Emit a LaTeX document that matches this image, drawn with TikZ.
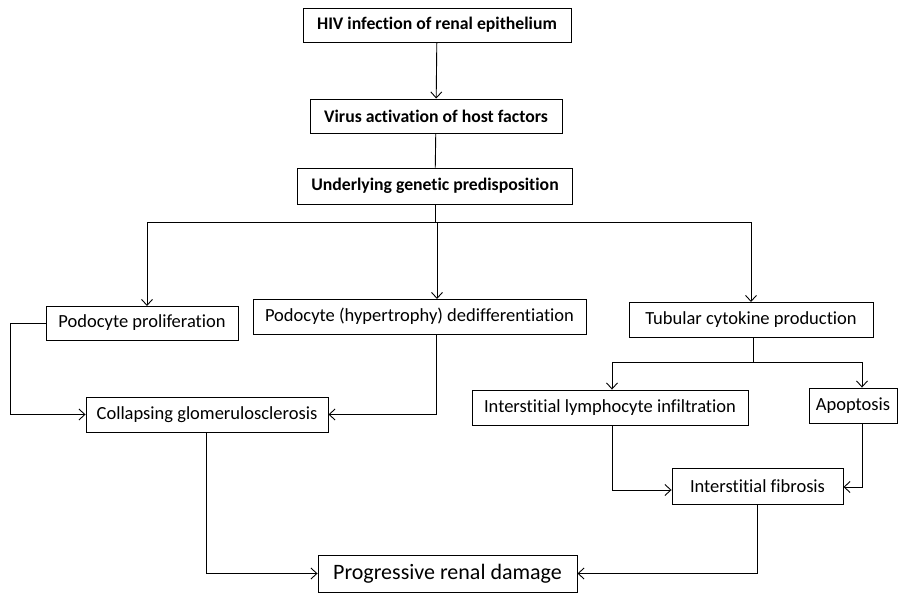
\documentclass[tikz,border=0pt]{standalone}
\usepackage{fontspec}
\setmainfont{Carlito}[Ligatures=NoCommon]
\usetikzlibrary{arrows.meta}

\tikzset{
  box/.style={draw, line width=0.9pt, minimum height=34pt, inner sep=2pt,
    font=\fontsize{18.5}{22}\selectfont},
  topbox/.style={box, font=\fontsize{17.7}{21}\selectfont\bfseries},
  link/.style={line width=0.9pt},
  arr/.style={link, -{Straight Barb[length=6pt,width=11pt]}}
}

\begin{document}
\begin{tikzpicture}[x=1pt, y=-1pt]
  \useasboundingbox (0,0) rectangle (900,595);
  % top chain
  \node[topbox, minimum width=268pt] (hiv) at (437,25) {HIV infection of renal epithelium};
  \node[topbox, minimum width=252pt] (virus) at (436,116) {Virus activation of host factors};
  \node[topbox, minimum width=275pt, minimum height=36pt] (gene) at (435,186) {Underlying genetic predisposition};
  % middle row
  \node[box, minimum width=192pt] (prolif) at (142,323) {Podocyte proliferation};
  \node[box, minimum width=333pt, minimum height=35pt] (dediff) at (419.5,316.5) {Podocyte (hypertrophy) dedifferentiation};
  \node[box, minimum width=244pt, minimum height=35pt] (tubul) at (751,319.5) {Tubular cytokine production};
  \node[box, minimum width=242pt, minimum height=35pt] (collapse) at (207,414.5) {Collapsing glomerulosclerosis};
  \node[box, minimum width=276pt, minimum height=35pt] (lymph) at (610,407.5) {Interstitial lymphocyte infiltration};
  \node[box, minimum width=88pt, minimum height=35pt] (apop) at (853,405.5) {Apoptosis};
  \node[box, minimum width=171pt, minimum height=36pt] (fibro) at (757.5,486) {Interstitial fibrosis};
  \node[box, minimum width=259pt, minimum height=37pt, font=\fontsize{22}{26}\selectfont] (damage) at (447.5,573.5) {Progressive renal damage};

  \coordinate (split) at (435,222);
  \coordinate (tsplit) at (753,362);

  \draw[arr] (hiv) -- (virus);
  \draw[link] (virus) -- (gene);
  \draw[link] (gene.south) -- (split);
  \draw[link] (147,222) -- (751,222);
  \draw[arr] (147,222) -- (147,306);
  \draw[arr] (437,222) -- (437,299);
  \draw[arr] (751,222) -- (751,302);

  \draw[arr] (prolif.west) -- (10,323) |- (collapse.west);
  \draw[arr] (dediff.south -| 436,0) |- (collapse.east);

  \draw[link] (tubul.south -| tsplit) -- (tsplit);
  \draw[link] (612,362) -- (862,362);
  \draw[arr] (612,362) -- (lymph.north -| 612,0);
  \draw[arr] (862,362) -- (apop.north -| 862,0);
  \draw[arr] (lymph.south -| 612,0) |- (fibro.west |- 0,490);
  \draw[arr] (apop.south -| 862,0) |- (fibro.east |- 0,487);

  \draw[arr] (collapse.south -| 206,0) |- (damage.west);
  \draw[arr] (fibro.south) |- (damage.east);
\end{tikzpicture}
\end{document}
